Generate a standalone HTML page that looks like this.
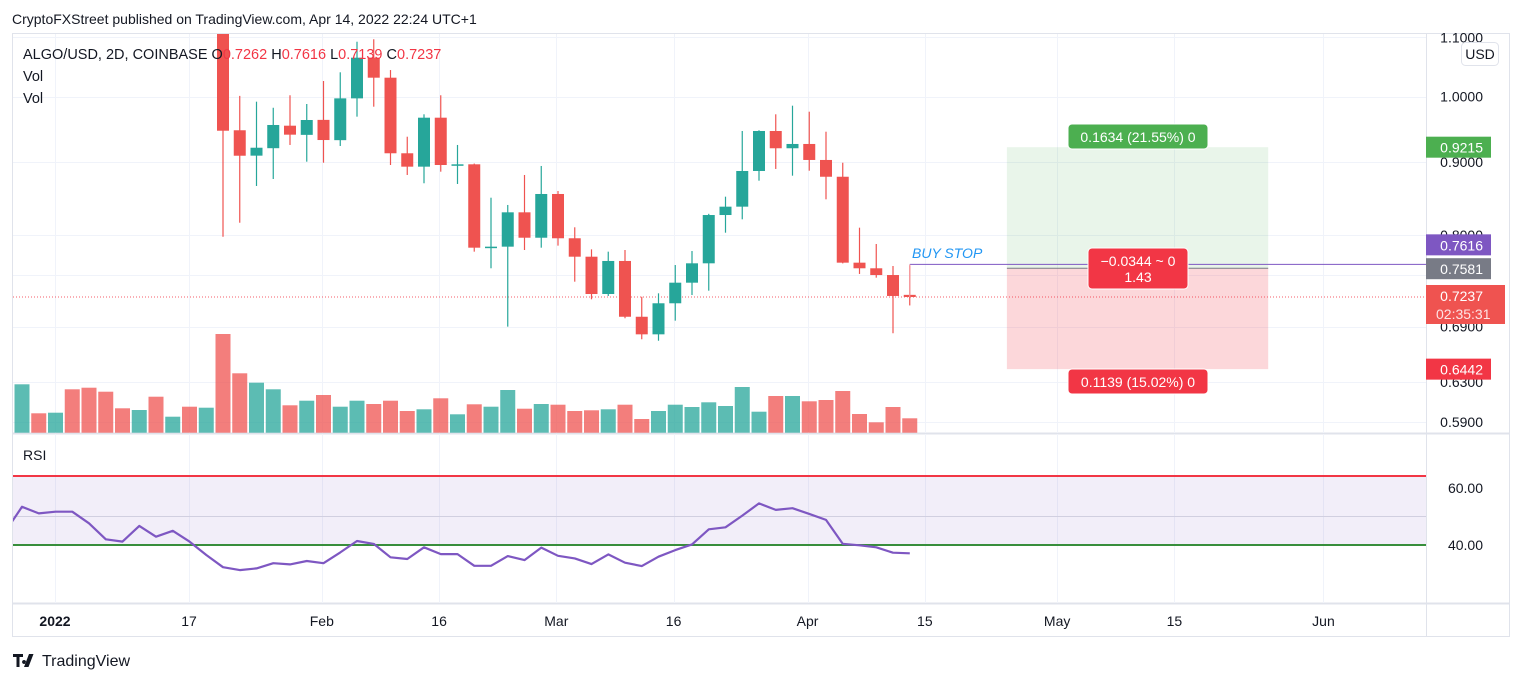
<!DOCTYPE html>
<html><head><meta charset="utf-8">
<style>
html,body{margin:0;padding:0;background:#fff;width:1536px;height:683px;overflow:hidden}
svg{display:block;font-family:"Liberation Sans","DejaVu Sans",sans-serif}
</style></head>
<body>
<svg id="c" width="1536" height="683" viewBox="0 0 1536 683" xmlns="http://www.w3.org/2000/svg"></svg>
<script>
// ---- data ----
const opens  = [1.30,1.38,1.30,1.36,1.33,1.30,1.27,1.20,1.28,1.18,1.28,1.24,1.25,0.947,0.909,0.920,0.954,0.940,0.963,0.932,0.997,1.0646,1.0308,0.9125,0.893,0.9664,0.8954,0.8964,0.7836,0.7849,0.8296,0.7963,0.8545,0.7956,0.7723,0.7272,0.767,0.701,0.6814,0.7164,0.7406,0.7641,0.826,0.8372,0.8868,0.9459,0.9199,0.9263,0.9027,0.8786,0.7649,0.758,0.7498,0.7262];
const highs  = [1.45,1.42,1.42,1.40,1.37,1.34,1.30,1.30,1.32,1.30,1.32,1.30,1.30,1.001,0.9917,0.982,1.002,0.988,1.0253,1.0398,1.0924,1.0967,1.0436,0.9372,0.9717,1.002,0.9248,0.8975,0.8494,0.8395,0.8811,0.894,0.8586,0.8098,0.7815,0.7786,0.7807,0.724,0.728,0.762,0.7794,0.8276,0.8508,0.9459,0.947,0.9717,0.9853,0.9758,0.9448,0.8987,0.8093,0.7883,0.7608,0.7616];
const lows   = [1.25,1.28,1.25,1.28,1.26,1.23,1.18,1.17,1.18,1.16,1.20,1.19,0.7976,0.8158,0.8656,0.8754,0.9248,0.9002,0.8987,0.9233,0.968,0.9837,0.8954,0.8811,0.8694,0.8858,0.8684,0.7786,0.758,0.6899,0.7807,0.7836,0.7862,0.7418,0.721,0.7249,0.6993,0.676,0.6744,0.6966,0.726,0.7311,0.8028,0.8203,0.873,0.8897,0.8801,0.8872,0.8472,0.764,0.7511,0.7466,0.6826,0.7139];
const closes = [1.38,1.30,1.36,1.33,1.30,1.27,1.20,1.28,1.18,1.28,1.24,1.25,0.9463,0.9089,0.9207,0.9551,0.9403,0.9628,0.9322,0.997,1.0646,1.0308,0.9125,0.893,0.9664,0.8954,0.8964,0.7836,0.7849,0.8296,0.7963,0.8545,0.7956,0.7723,0.7272,0.767,0.701,0.6814,0.7164,0.7406,0.7641,0.826,0.8372,0.8868,0.9459,0.9199,0.9263,0.9027,0.8786,0.7649,0.758,0.7498,0.7249,0.7237];
const volumes = [48.4,19.4,20,43.4,45,41,24.4,22.7,36,16,26,25,98.7,59.4,50,43.4,27.4,32,37.7,26,32,28.7,32,21.7,23.4,34.4,18.4,28.4,26,42.7,24,28.7,28,21.7,22.4,23.4,28,13.7,21.7,28,25.7,30.4,26.7,45.7,21,36.7,36.7,31.4,32.7,41.7,18.7,10.4,25.7,14.4];
const rsiValues = [44.7,53.4,51.1,51.7,51.7,47.6,42.0,41.2,46.7,42.9,45.0,41.2,36.5,32.2,31.2,31.8,33.6,33.2,34.4,33.6,37.4,41.4,40.4,35.7,35.1,39.2,36.8,36.8,32.7,32.7,36.1,34.7,39.1,36.2,35.3,33.3,36.7,33.8,32.6,35.9,38.2,40.2,45.5,46.2,50.3,54.6,52.3,52.9,50.9,48.8,40.4,39.9,39.2,37.3,37.1];
const priceTicks = [1.1, 1.0, 0.9, 0.8, 0.69];
const priceTickLabels = ["1.1000","1.0000","0.9000","0.8000","0.6900"];
const volTickLabels = ["0.6300","0.5900"];
const volTickVals = [50.7, 10.7];
const rsiTicks = [60, 40];
const rsiTickLabels = ["60.00","40.00"];
const timeTickIdx = [1.97,9.97,17.9,24.9,31.9,38.9,46.9,53.9,61.8,68.8,77.7];
const timeTickLabels = ["2022","17","Feb","16","Mar","16","Apr","15","May","15","Jun"];
const entryPrice = 0.7581, stopPrice = 0.7616, targetPrice = 0.9215, lossPrice = 0.6442, lastPrice = 0.7237;
const posStartIdx = 58.8, posEndIdx = 74.4;

// ---- scales ----
const X0 = 22, STEP = 16.75;
const xS = i => X0 + STEP * i;
const yP = p => 96.5 - 620 * Math.log(p);
const VOLBASE = 432.7;
const yV = v => VOLBASE - v;
const yR = v => 545 - (v - 40) * 2.85;

const NS = "http://www.w3.org/2000/svg";
const svg = document.getElementById('c');
function mk(tag, attrs, parent) {
  const e = document.createElementNS(NS, tag);
  for (const k in attrs) e.setAttribute(k, attrs[k]);
  (parent || svg).appendChild(e);
  return e;
}
function txt(s, attrs, parent) { const e = mk('text', attrs, parent); e.textContent = s; return e; }

const PL = 13, PR = 1426, PT = 34, MB = 433, RT = 434, RB = 603;
const defs = mk('defs', {});
const cp = mk('clipPath', {id: 'mainclip'}, defs);
mk('rect', {x: PL, y: PT, width: PR - PL, height: MB - PT}, cp);
const cp2 = mk('clipPath', {id: 'rsiclip'}, defs);
mk('rect', {x: PL, y: RT, width: PR - PL, height: RB - RT}, cp2);

let t = txt('CryptoFXStreet published on TradingView.com, Apr 14, 2022 22:24 UTC+1', {x: 12, y: 24, 'font-size': 14, fill: '#131722'});



let fr = mk('rect', {x: 12.5, y: 33.5, width: 1497, height: 603, fill: 'none', stroke: '#e0e3eb'});


mk('line', {x1: PR + .5, y1: 34, x2: PR + .5, y2: 637, stroke: '#e0e3eb'});
mk('line', {x1: 13, y1: MB + .5, x2: 1510, y2: MB + .5, stroke: '#e0e3eb', 'stroke-width': 2});
mk('line', {x1: 13, y1: RB + .5, x2: 1510, y2: RB + .5, stroke: '#e0e3eb', 'stroke-width': 2});

const gridG = mk('g', {});


timeTickIdx.forEach(i => {
  const x = Math.round(xS(i)) + .5;
  mk('line', {x1: x, y1: PT, x2: x, y2: MB, stroke: '#f0f3fa'}, gridG);
  mk('line', {x1: x, y1: RT, x2: x, y2: RB, stroke: '#f0f3fa'}, gridG);
});
priceTicks.forEach(p => {
  const y = Math.round(yP(p)) + .5;
  mk('line', {x1: PL, y1: y, x2: PR, y2: y, stroke: '#f0f3fa'}, gridG);
});
[0.75].forEach(p => { const y = Math.round(yP(p)) + .5; mk('line', {x1: PL, y1: y, x2: PR, y2: y, stroke: '#f0f3fa'}, gridG); });
volTickVals.forEach(v => { const y = Math.round(yV(v)) + .5; mk('line', {x1: PL, y1: y, x2: PR, y2: y, stroke: '#f0f3fa'}, gridG); });

const px1 = xS(posStartIdx), px2 = xS(posEndIdx);
let gz = mk('rect', {x: px1, y: yP(targetPrice), width: px2 - px1, height: yP(entryPrice) - yP(targetPrice), fill: 'rgba(76,175,80,0.12)'});


let rz = mk('rect', {x: px1, y: yP(entryPrice), width: px2 - px1, height: yP(lossPrice) - yP(entryPrice), fill: 'rgba(242,54,69,0.2)'});


mk('line', {x1: px1, y1: yP(entryPrice), x2: px2, y2: yP(entryPrice), stroke: '#787b86', 'stroke-width': 1});

const volG = mk('g', {'clip-path': 'url(#mainclip)'});


volumes.forEach((v, i) => {
  const up = closes[i] >= opens[i];
  const r = mk('rect', {x: xS(i) - 7.5, y: yV(v), width: 15, height: v, fill: up ? 'rgba(38,166,154,0.75)' : 'rgba(239,83,80,0.75)'}, volG);
  
  
});

mk('line', {x1: PL, y1: yP(lastPrice), x2: PR, y2: yP(lastPrice), stroke: '#f23645', 'stroke-width': 1, 'stroke-dasharray': '1 2', opacity: .8});

const cG = mk('g', {'clip-path': 'url(#mainclip)'});


opens.forEach((o, i) => {
  const c = closes[i], up = c >= o, col = up ? '#26a69a' : '#ef5350';
  const x = xS(i);
  const w = mk('line', {x1: x, y1: yP(highs[i]), x2: x, y2: yP(lows[i]), stroke: col, 'stroke-width': 1.2}, cG);
  
  
  const top = yP(Math.max(o, c)), bot = yP(Math.min(o, c));
  const b = mk('rect', {x: x - 6, y: top, width: 12, height: Math.max(1.5, bot - top), fill: col}, cG);
  
  
});

const lastX = xS(opens.length - 1);
mk('line', {x1: lastX, y1: yP(stopPrice) - 1, x2: PR, y2: yP(stopPrice) - 1, stroke: '#7e57c2', 'stroke-width': 1});
mk('line', {x1: lastX, y1: yP(stopPrice) - 1, x2: lastX, y2: yP(lastPrice), stroke: '#f7a1a6', 'stroke-width': 1});
let bs = txt('BUY STOP', {x: 912, y: 258, 'font-size': 14, 'font-style': 'italic', fill: '#2196f3'});



function box(x, y, w, h, fill, lines, name) {
  const g = mk('g', {});
  
  
  mk('rect', {x, y, width: w, height: h, rx: 4, fill, stroke: '#fff', 'stroke-width': 1}, g);
  lines.forEach((s, k) => txt(s, {x: x + w / 2, y: y + 18 + k * 16, 'font-size': 14, fill: '#fff', 'text-anchor': 'middle'}, g));
}
box(1068, 124, 140, 25, '#4caf50', ['0.1634 (21.55%) 0'], 'target-label');
box(1088, 248, 100, 41, '#f23645', ['\u22120.0344 ~ 0', '1.43'], 'risk-reward-label');
box(1068, 369, 140, 25, '#f23645', ['0.1139 (15.02%) 0'], 'stop-loss-label');

const lg = mk('g', {});


const leg = txt('', {x: 23, y: 59, 'font-size': 14.5, fill: '#131722'}, lg);
leg.setAttribute('xml:space', 'preserve');
leg.innerHTML = 'ALGO/USD, 2D, COINBASE  O<tspan fill="#f23645">0.7262</tspan>  H<tspan fill="#f23645">0.7616</tspan>  L<tspan fill="#f23645">0.7139</tspan>  C<tspan fill="#f23645">0.7237</tspan>';
txt('Vol', {x: 23, y: 81, 'font-size': 14.5, fill: '#131722'}, lg);
txt('Vol', {x: 23, y: 103, 'font-size': 14.5, fill: '#131722'}, lg);

const axG = mk('g', {});


priceTicks.forEach((p, k) => txt(priceTickLabels[k], {x: 1483, y: yP(p) + 5, 'font-size': 14, fill: '#131722', 'text-anchor': 'end'}, axG));
volTickVals.forEach((v, k) => txt(volTickLabels[k], {x: 1483, y: yV(v) + 5, 'font-size': 14, fill: '#131722', 'text-anchor': 'end'}, axG));
const ub = mk('g', {});


mk('rect', {x: 1461.5, y: 42.5, width: 37, height: 23, rx: 4, fill: '#fff', stroke: '#e0e3eb'}, ub);
txt('USD', {x: 1480, y: 59, 'font-size': 14, fill: '#131722', 'text-anchor': 'middle'}, ub);

function tag(top, fill, label, name, h, extra) {
  const g = mk('g', {});
  
  
  mk('rect', {x: 1426, y: top, width: extra ? 79 : 65, height: h, fill}, g);
  txt(label, {x: 1483, y: top + 16, 'font-size': 14, fill: '#fff', 'text-anchor': 'end'}, g);
  if (extra) txt(extra, {x: 1436, y: top + 34, 'font-size': 14, fill: '#fde3e4'}, g);
}
tag(yP(targetPrice) - 10.5, '#4caf50', '0.9215', 'target-price-tag', 21);
tag(yP(stopPrice) - 31, '#7e57c2', '0.7616', 'stop-order-tag', 21);
tag(yP(entryPrice) - 10, '#787b86', '0.7581', 'entry-price-tag', 21);
tag(yP(lastPrice) - 12, '#ef5350', '0.7237', 'last-price-tag', 39, '02:35:31');
tag(yP(lossPrice) - 10.5, '#f23645', '0.6442', 'stop-loss-tag', 21);

const rG = mk('g', {});


txt('RSI', {x: 23, y: 460, 'font-size': 14, fill: '#131722'}, rG);
mk('rect', {x: PL, y: yR(64.2), width: PR - PL, height: yR(40) - yR(64.2), fill: 'rgba(126,87,194,0.1)'}, rG);
mk('line', {x1: PL, y1: yR(64.2), x2: PR, y2: yR(64.2), stroke: '#f23645', 'stroke-width': 2}, rG);
mk('line', {x1: PL, y1: yR(50), x2: PR, y2: yR(50), stroke: '#d1cfe0', 'stroke-width': 1}, rG);
mk('line', {x1: PL, y1: yR(40), x2: PR, y2: yR(40), stroke: '#388e3c', 'stroke-width': 2}, rG);
rsiTicks.forEach((v, k) => txt(rsiTickLabels[k], {x: 1483, y: yR(v) + 5, 'font-size': 14, fill: '#131722', 'text-anchor': 'end'}, rG));
const pts = rsiValues.map((v, k) => xS(k - 1).toFixed(1) + ',' + yR(v).toFixed(1)).join(' ');
const rl = mk('polyline', {points: pts, fill: 'none', stroke: '#7e57c2', 'stroke-width': 2.2, 'stroke-linejoin': 'round', 'clip-path': 'url(#rsiclip)'}, rG);



const tG = mk('g', {});


timeTickIdx.forEach((i, k) => txt(timeTickLabels[k], {x: xS(i), y: 626, 'font-size': 14, fill: '#131722', 'text-anchor': 'middle', 'font-weight': k === 0 ? 'bold' : 'normal'}, tG));

const wm = mk('g', {});


mk('path', {d: 'M13 654h10v3h-3.5v10h-3v-10H13z M24 660a2 2 0 1 0 .1 0z M29 654h4.5l-5 13h-4.5z', fill: '#131722'}, wm);
txt('TradingView', {x: 42, y: 666, 'font-size': 16, fill: '#131722'}, wm);
</script>
</body></html>
